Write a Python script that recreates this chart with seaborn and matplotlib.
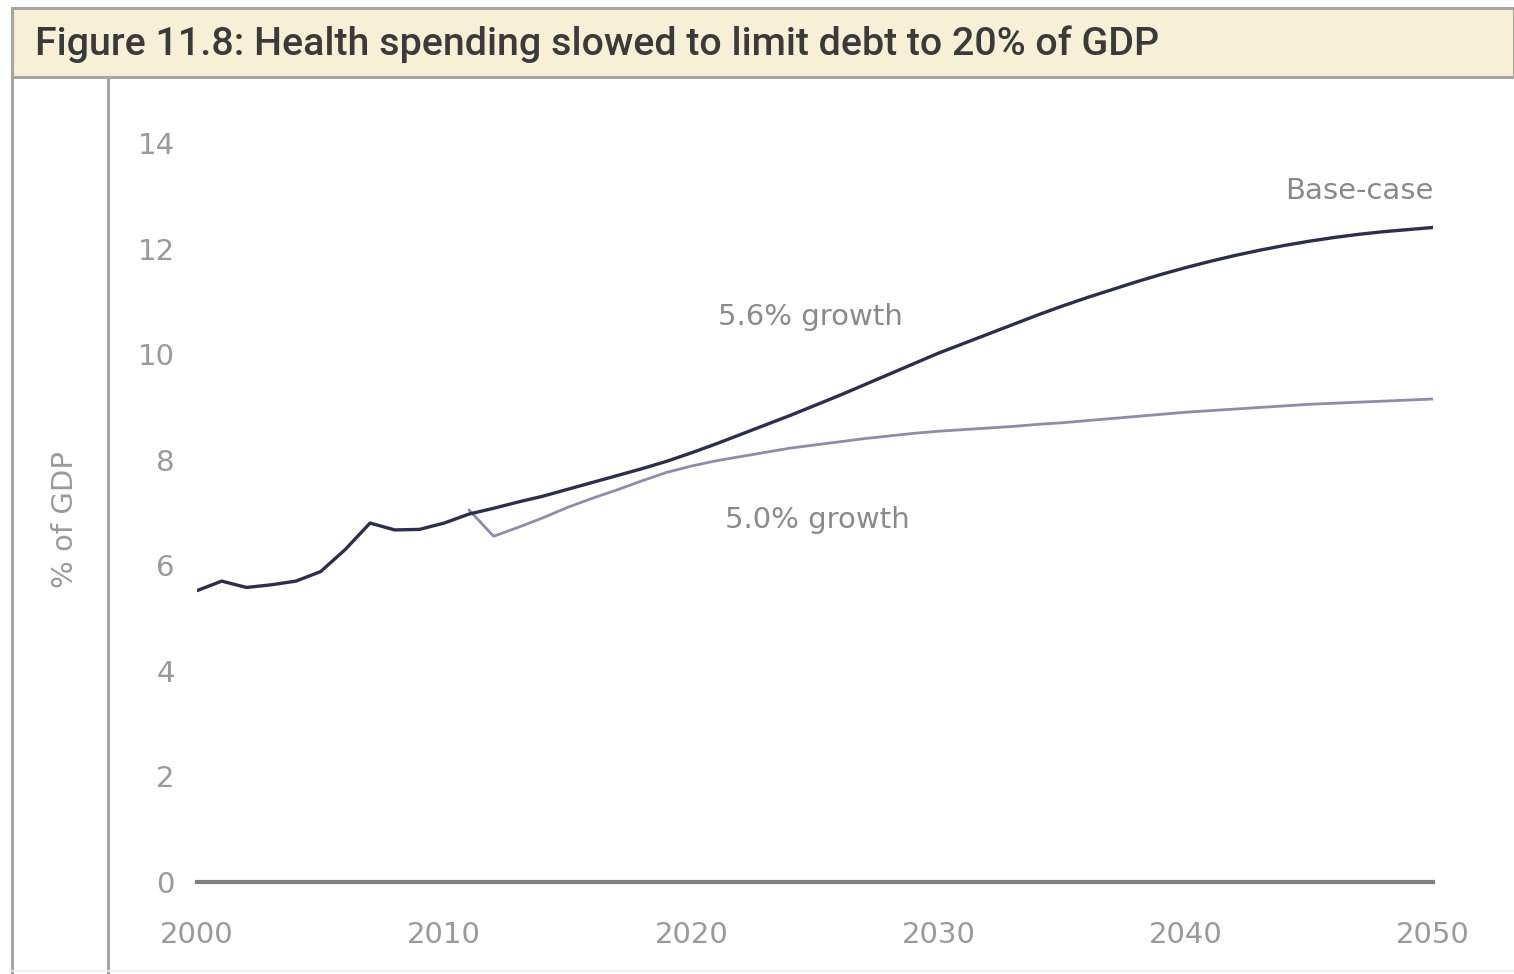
import matplotlib
matplotlib.use("Agg")
import matplotlib.pyplot as plt
import seaborn as sns
import pandas as pd
from matplotlib.patches import Rectangle
from matplotlib.lines import Line2D

# ---- data ----
years_base = list(range(2000, 2051))
base_case = [5.52, 5.70, 5.58, 5.63, 5.70, 5.88, 6.30, 6.80, 6.67, 6.68,
             6.80, 6.97, 7.08, 7.20, 7.31, 7.44, 7.57, 7.70, 7.83, 7.97,
             8.13, 8.30, 8.48, 8.66, 8.84, 9.03, 9.22, 9.42, 9.62, 9.82,
             10.02, 10.20, 10.38, 10.56, 10.74, 10.91, 11.07, 11.22, 11.37, 11.51,
             11.64, 11.76, 11.87, 11.97, 12.06, 12.14, 12.21, 12.27, 12.32, 12.36,
             12.40]
years_slow = list(range(2011, 2051))
slow_growth = [7.05, 6.55, 6.72, 6.90, 7.10, 7.27, 7.43, 7.60, 7.76, 7.88,
               7.98, 8.06, 8.14, 8.22, 8.28, 8.34, 8.40, 8.45, 8.50, 8.54,
               8.57, 8.60, 8.63, 8.67, 8.70, 8.74, 8.78, 8.82, 8.86, 8.90,
               8.93, 8.96, 8.99, 9.02, 9.05, 9.07, 9.09, 9.11, 9.13, 9.15]
x_ticks = [2000, 2010, 2020, 2030, 2040, 2050]
y_ticks = [0, 2, 4, 6, 8, 10, 12, 14]
title_text = "Figure 11.8: Health spending slowed to limit debt to 20% of GDP"
y_label = "% of GDP"
labels = {"Base-case": (2047.0, 13.1),
          "5.6% growth": (2024.8, 10.7),
          "5.0% growth": (2025.1, 6.86)}

df_base = pd.DataFrame({"year": years_base, "value": base_case})
df_slow = pd.DataFrame({"year": years_slow, "value": slow_growth})

sns.set_theme(style="white")
plt.rcParams["font.family"] = ["DejaVu Sans"]

W, H = 1514, 974
fig = plt.figure(figsize=(W / 100, H / 100), dpi=100)
fig.patch.set_facecolor("white")

def fx(px):
    return px / W

def fy(py):
    return 1 - py / H

fig.patches.append(Rectangle((fx(12), fy(77)), fx(1514) - fx(12), fy(8) - fy(77),
                             transform=fig.transFigure, facecolor="#f7f0d7",
                             edgecolor="#a6a6a6", linewidth=2.2, zorder=0))
fig.lines.append(Line2D([fx(12), fx(12)], [fy(8), fy(974)], transform=fig.transFigure,
                        color="#a6a6a6", linewidth=2.2))
fig.lines.append(Line2D([fx(108), fx(108)], [fy(77), fy(974)], transform=fig.transFigure,
                        color="#a6a6a6", linewidth=2.2))
fig.lines.append(Line2D([fx(12), fx(1514)], [fy(971), fy(971)], transform=fig.transFigure,
                        color="#eeeeee", linewidth=1.2))

fig.text(fx(35), fy(44), title_text, ha="left", va="center", fontsize=28.4,
         color="#3a3a3a", family=["Roboto", "DejaVu Sans"], weight="medium")
fig.text(fx(65), fy(520), y_label, rotation=90, ha="center", va="center",
         fontsize=21, color="#9a9a9a")

ax = fig.add_axes([fx(197), fy(882), fx(1433) - fx(197), fy(143) - fy(882)])
ax.set_facecolor("none")

sns.lineplot(data=df_slow, x="year", y="value", ax=ax, color="#8e8ca8",
             linewidth=2.0, zorder=3)
sns.lineplot(data=df_base, x="year", y="value", ax=ax, color="#2b2e4d",
             linewidth=2.4, zorder=4)

ax.set_xlim(2000, 2050)
ax.set_ylim(0, 14)
ax.set_xticks(x_ticks)
ax.set_yticks(y_ticks)
ax.set_xticklabels([str(v) for v in x_ticks])
ax.set_yticklabels([str(v) for v in y_ticks])
ax.tick_params(axis="x", length=0, pad=28, labelsize=21, labelcolor="#9a9a9a")
ax.tick_params(axis="y", length=0, pad=16, labelsize=21, labelcolor="#9a9a9a")
ax.set_xlabel("")
ax.set_ylabel("")
for side in ["top", "right", "left"]:
    ax.spines[side].set_visible(False)
ax.spines["bottom"].set_color("#808080")
ax.spines["bottom"].set_linewidth(3)
ax.grid(False)

for txt, (xv, yv) in labels.items():
    ax.text(xv, yv, txt, ha="center", va="center", fontsize=21, color="#8a8a8a")

fig.savefig("out.png", dpi=100)
